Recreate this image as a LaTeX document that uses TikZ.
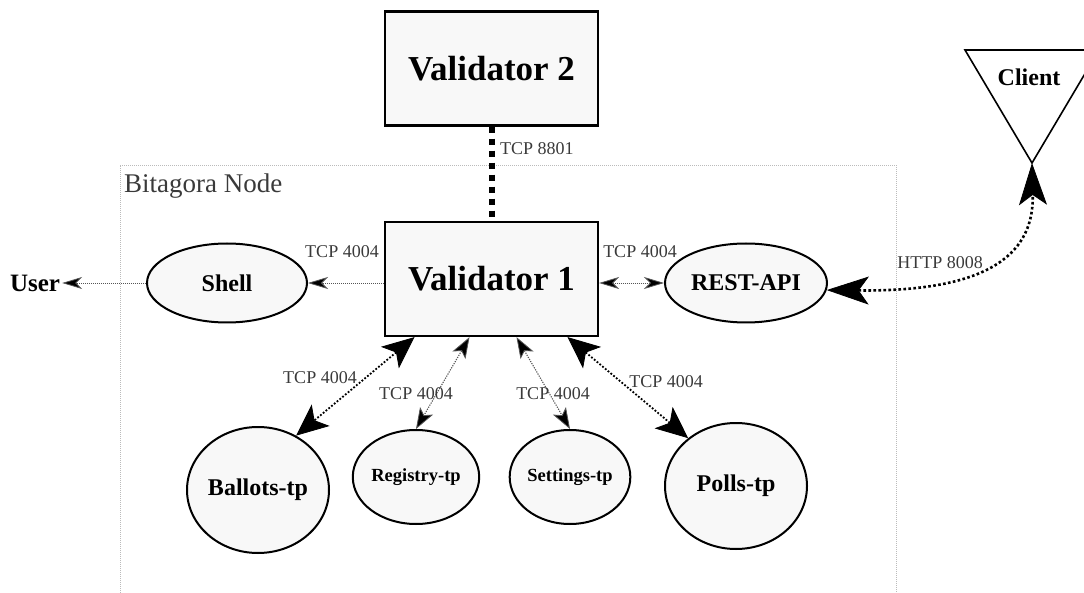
\documentclass[tikz,border=0pt]{standalone}
\usepackage{fontspec}
\setmainfont{Liberation Serif}
\usetikzlibrary{shapes.geometric,arrows.meta,calc}
\definecolor{nodefill}{HTML}{F8F8F8}
\definecolor{lbl}{HTML}{3A3A3A}
\definecolor{framecol}{HTML}{BBBBBB}
\definecolor{thincol}{HTML}{555555}
\tikzset{
  smalltip/.tip={Stealth[length=20pt,width=12pt,inset=6pt,fill=black,line width=0.8pt]},
  midtip/.tip={Stealth[length=21pt,width=15pt,inset=5pt,fill=black,line width=0.8pt]},
  bigtip/.tip={Stealth[length=32pt,width=28pt,inset=8pt,fill=black,line width=0.8pt]},
  hugetip/.tip={Stealth[length=42pt,width=28pt,inset=10pt,fill=black,line width=0.8pt]}
}
\begin{document}
\begin{tikzpicture}[x=1pt,y=-1pt,
  box/.style={draw,line width=2.2pt,fill=nodefill,minimum width=213pt,minimum height=114pt,inner sep=0pt,font=\fontsize{35}{40}\selectfont\bfseries},
  ell/.style={ellipse,draw,line width=2pt,fill=nodefill,inner sep=0pt,font=\fontsize{24}{28}\selectfont\bfseries},
  lab/.style={text=lbl,font=\fontsize{18}{20}\selectfont,inner sep=0pt},
  frame/.style={draw=framecol,line width=0.8pt,dash pattern=on 1pt off 1pt},
  conthin/.style={draw=thincol,line width=0.9pt,dash pattern=on 1pt off 1pt},
  conmid/.style={draw=thincol,line width=1.1pt,dash pattern=on 1.2pt off 1.2pt},
  conthick/.style={draw=black,line width=1.8pt,dash pattern=on 1.8pt off 1.8pt},
  conhuge/.style={draw=black,line width=2.6pt,dash pattern=on 2.6pt off 2.4pt}
]
\useasboundingbox (0,0) rectangle (1084,593);

% frame of the Bitagora node
\draw[frame] (120,593) -- (120,165) -- (896,165) -- (896,593);
\node[anchor=west,text=lbl,font=\fontsize{27}{30}\selectfont,inner sep=0pt] (bnlabel) at (124,186) {Bitagora Node};

% nodes
\node[box] (v2) at (491.5,68.5) {Validator 2};
\node[box] (v1) at (491.5,279) {Validator 1};
\node[ell,minimum width=160pt,minimum height=79pt] (shell) at (227,283) {Shell};
\node[ell,minimum width=162pt,minimum height=79pt] (rest) at (746,283) {REST-API};
\node[ell,minimum width=142pt,minimum height=126pt] (ballots) at (258,490) {Ballots-tp};
\node[ell,minimum width=106pt,minimum height=94pt,font=\fontsize{18.5}{22}\selectfont\bfseries] (registry) at (416,477) {Registry-tp};
\node[ell,minimum width=106pt,minimum height=94pt,font=\fontsize{18.5}{22}\selectfont\bfseries] (settings) at (570,477) {Settings-tp};
\node[ell,minimum width=142pt,minimum height=126pt] (polls) at (736,486) {Polls-tp};
\node[font=\fontsize{25}{28}\selectfont\bfseries,inner sep=2pt] (user) at (35,283) {User};

% client triangle
\coordinate (capex) at (1032,163);
\draw[line width=1.6pt] (965,50) -- (1099,50) -- (capex) -- cycle;
\node[font=\fontsize{24}{28}\selectfont\bfseries,inner sep=0pt] (client) at (1029,77) {Client};

% connectors
\draw[draw=black,line width=6pt,dash pattern=on 6pt off 6pt] (v2.south) -- (v1.north);
\node[lab,anchor=west] (l8801) at (500,149) {TCP 8801};

\draw[conthin,-{smalltip}] (v1.west |- shell.east) -- (shell.east);
\node[lab] (lshell) at (342,252) {TCP 4004};
\draw[conthin,-{smalltip}] (shell.west) -- (user.east);

\draw[conthin,{smalltip}-{smalltip}] (v1.east |- rest.west) -- (rest.west);
\node[lab] (lrest) at (640,252) {TCP 4004};

\draw[conhuge,{hugetip}-{hugetip}] (rest.-5) .. controls (995,292) and (1034,250) .. (capex);
\node[lab] (lhttp) at (940,263) {HTTP 8008};

\draw[conthick,{bigtip}-{bigtip}] ([xshift=-77pt]v1.south) -- (ballots.55);
\node[lab] (lballots) at (320,378) {TCP 4004};

\draw[conmid,{midtip}-{midtip}] ([xshift=-22pt]v1.south) -- (registry.north);
\node[lab] (lregistry) at (416,394) {TCP 4004};

\draw[conmid,{midtip}-{midtip}] ([xshift=25pt]v1.south) -- (settings.north);
\node[lab] (lsettings) at (553,394) {TCP 4004};

\draw[conthick,{bigtip}-{bigtip}] ([xshift=76pt]v1.south) -- (polls.135);
\node[lab] (lpolls) at (666,382) {TCP 4004};
\end{tikzpicture}
\end{document}
